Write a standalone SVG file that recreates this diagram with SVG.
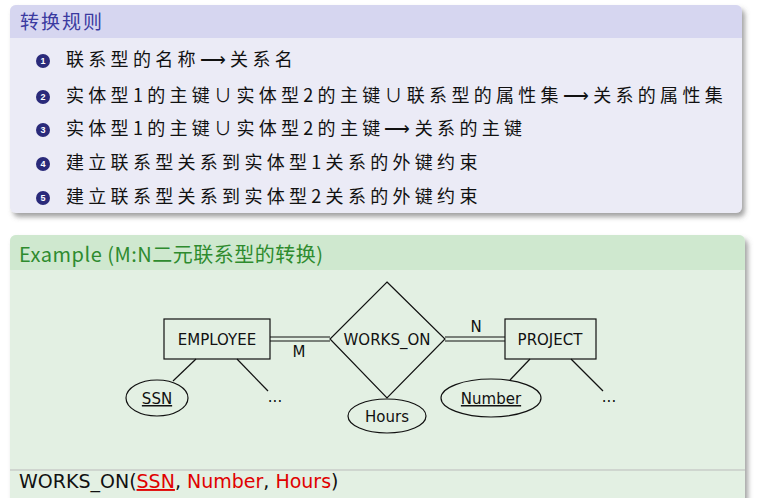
<svg xmlns="http://www.w3.org/2000/svg" width="768" height="498" viewBox="0 0 768 498">
<defs>
<style>
.cj{font-family:"Noto Sans CJK SC","Liberation Serif",serif;font-size:18px;fill:#111;letter-spacing:4.3px}
.t{font-family:"DejaVu Sans","Liberation Sans",sans-serif;font-size:15px;fill:#111}
.s{fill:none;stroke:#111;stroke-width:1.2}
.b{fill:#2a2a7a}
.bn{font-family:"Liberation Sans",sans-serif;font-size:9px;fill:#fff;font-weight:bold}
</style>
<filter id="sh" x="-5%" y="-5%" width="110%" height="120%"><feDropShadow dx="3" dy="4" stdDeviation="2.5" flood-color="#666" flood-opacity="0.6"/></filter>
</defs>
<rect width="768" height="498" fill="#fff"/>
<g id="rules">
<rect x="10" y="5" width="732" height="208" rx="6" fill="#ebebf6" filter="url(#sh)"/>
<path d="M10 38 V11 a6 6 0 0 1 6 -6 H736 a6 6 0 0 1 6 6 V38 Z" fill="#d6d6f0"/>
<text x="20" y="29" class="cj" style="font-size:19px;fill:#3a3aa0;letter-spacing:2px">转换规则</text>
<g>
<circle cx="43" cy="61" r="7" class="b"/><text x="43" y="64" class="bn" text-anchor="middle">1</text>
<text x="66" y="66" class="cj">联系型的名称⟶关系名</text>
<circle cx="43" cy="97" r="7" class="b"/><text x="43" y="100" class="bn" text-anchor="middle">2</text>
<text x="66" y="102" class="cj">实体型1的主键∪实体型2的主键∪联系型的属性集⟶关系的属性集</text>
<circle cx="43" cy="130" r="7" class="b"/><text x="43" y="133" class="bn" text-anchor="middle">3</text>
<text x="66" y="135" class="cj">实体型1的主键∪实体型2的主键⟶关系的主键</text>
<circle cx="43" cy="164" r="7" class="b"/><text x="43" y="167" class="bn" text-anchor="middle">4</text>
<text x="66" y="169" class="cj">建立联系型关系到实体型1关系的外键约束</text>
<circle cx="43" cy="198" r="7" class="b"/><text x="43" y="201" class="bn" text-anchor="middle">5</text>
<text x="66" y="203" class="cj">建立联系型关系到实体型2关系的外键约束</text>
</g>
</g>
<g id="example">
<rect x="10" y="235" width="735" height="270" rx="6" fill="#e3f0e3" filter="url(#sh)"/>
<path d="M10 270 V241 a6 6 0 0 1 6 -6 H739 a6 6 0 0 1 6 6 V270 Z" fill="#cfe8cf"/>
<text x="19" y="262" class="cj" style="font-size:20px;fill:#2e8b2e;letter-spacing:0.5px">Example (M:N二元联系型的转换)</text>
<line x1="10" y1="470" x2="745" y2="470" stroke="#bbb" stroke-width="1"/>
<text x="19" y="488" style="font-family:'DejaVu Sans','Liberation Sans',sans-serif;font-size:19px;fill:#111">WORKS_ON(<tspan fill="#e00000" text-decoration="underline">SSN</tspan>, <tspan fill="#e00000">Number</tspan>, <tspan fill="#e00000">Hours</tspan>)</text>
</g>
<g id="connectors" class="s">
<line x1="270" y1="337" x2="330" y2="337"/><line x1="270" y1="341" x2="330" y2="341"/>
<line x1="445" y1="337" x2="505" y2="337"/><line x1="445" y1="341" x2="505" y2="341"/>
<line x1="196" y1="359" x2="173" y2="381"/>
<line x1="237" y1="359" x2="268" y2="391"/>
<line x1="530" y1="359" x2="510" y2="380"/>
<line x1="571" y1="359" x2="603" y2="391"/>
</g>
<g id="employee"><rect x="164" y="319" width="106" height="40" class="s" fill="none"/><text x="217" y="345" class="t" text-anchor="middle">EMPLOYEE</text></g>
<g id="works_on"><polygon points="387,282 445,339 387,398 330,339" class="s"/><text x="387" y="345" class="t" text-anchor="middle">WORKS_ON</text></g>
<g id="project"><rect x="505" y="319" width="91" height="40" class="s"/><text x="550" y="345" class="t" text-anchor="middle">PROJECT</text></g>
<g id="m"><text x="299" y="357" class="t" text-anchor="middle">M</text></g>
<g id="n"><text x="476" y="332" class="t" text-anchor="middle">N</text></g>
<g id="ssn"><ellipse cx="157" cy="398" rx="31" ry="18" class="s"/><text x="157" y="404" class="t" text-anchor="middle" text-decoration="underline">SSN</text></g>
<g id="hours"><ellipse cx="387" cy="416" rx="39" ry="17" class="s"/><text x="387" y="422" class="t" text-anchor="middle">Hours</text></g>
<g id="number"><ellipse cx="491" cy="398" rx="50" ry="19" class="s"/><text x="491" y="404" class="t" text-anchor="middle" text-decoration="underline">Number</text></g>
<g id="dots1"><text x="275" y="402" class="t" text-anchor="middle">...</text></g>
<g id="dots2"><text x="609" y="402" class="t" text-anchor="middle">...</text></g>
</svg>
